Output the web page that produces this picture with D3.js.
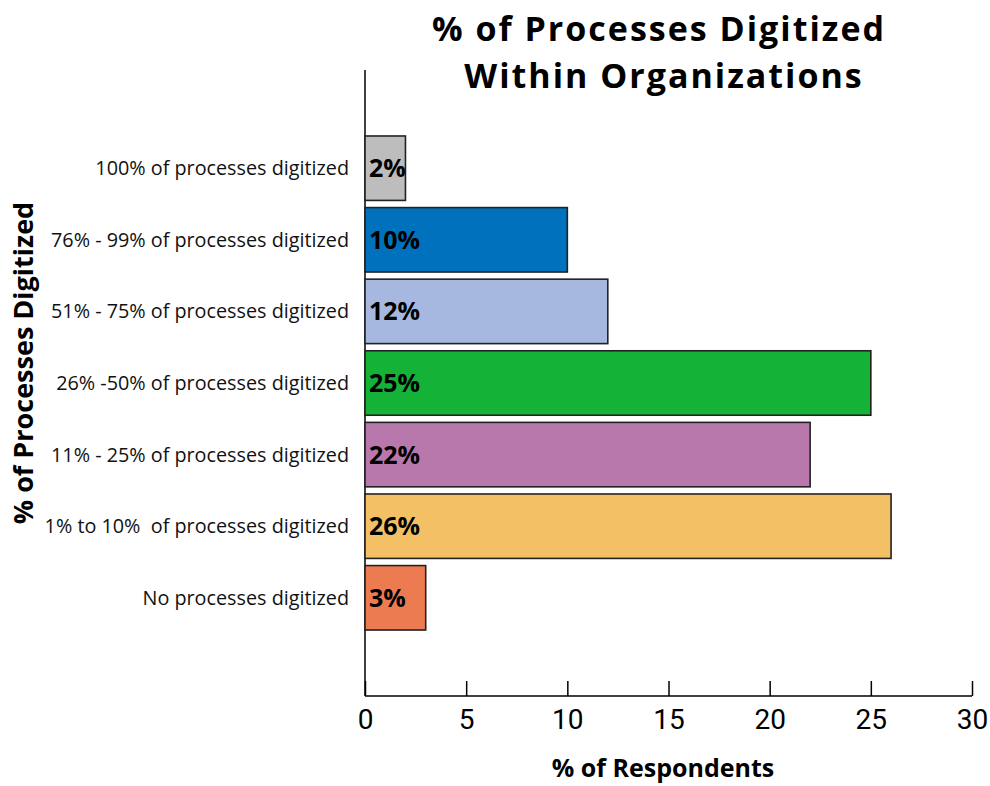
<!DOCTYPE html>
<html><head><meta charset="utf-8">
<script src="https://cdn.jsdelivr.net/npm/d3@7"></script>
<style>body{margin:0;background:#fff}</style>
</head><body>
<svg id="chart" width="990" height="786"></svg>
<script>
const categories = ["100% of processes digitized","76% - 99% of processes digitized","51% - 75% of processes digitized","26% -50% of processes digitized","11% - 25% of processes digitized","1% to 10%  of processes digitized","No processes digitized"];
const values = [2,10,12,25,22,26,3];
const valueLabels = ["2%","10%","12%","25%","22%","26%","3%"];
const colors = ["#bdbdbd","#0071bc","#a6b8df","#14b236","#b978ab","#f4c066","#ed7b52"];
const xTicks = [0,5,10,15,20,25,30];

const svg = d3.select("#chart");
const x = d3.scaleLinear().domain([0,30]).range([365,972]);
const y = d3.scaleBand().domain(categories).range([132.4,633.6]).paddingInner(0.1).paddingOuter(0.05);
const axisY = 696;

svg.append("line").attr("x1",365).attr("x2",365).attr("y1",70).attr("y2",axisY).attr("stroke","#000").attr("stroke-width",1.5);

svg.selectAll("rect.bar").data(values).join("rect").attr("class","bar")
  .attr("x",x(0)).attr("y",(d,i)=>y(categories[i]))
  .attr("width",d=>x(d)-x(0)).attr("height",y.bandwidth())
  .attr("fill",(d,i)=>colors[i]).attr("stroke","#222").attr("stroke-width",1.6);

svg.selectAll("text.val").data(values).join("text").attr("class","val")
  .attr("x",x(0)+4).attr("y",(d,i)=>y(categories[i])+y.bandwidth()/2)
  .attr("dy","0.36em").attr("font-family","'Open Sans', sans-serif").attr("font-weight","bold")
  .attr("font-size",25).text((d,i)=>valueLabels[i]);

svg.selectAll("text.cat").data(categories).join("text").attr("class","cat")
  .attr("x",349).attr("y",d=>y(d)+y.bandwidth()/2).attr("dy","0.35em")
  .attr("text-anchor","end").attr("font-family","'Open Sans', sans-serif").attr("font-size",19.8)
  .attr("fill","#111").style("white-space","pre").text(d=>d);

const xAxis = d3.axisBottom(x).tickValues(xTicks).tickSize(-15).tickPadding(30).tickFormat(d3.format("d"));
const gx = svg.append("g").attr("transform",`translate(0,${axisY})`).call(xAxis);
gx.select(".domain").attr("stroke","#000").attr("stroke-width",1.5).attr("d",`M${x(0)},0H${x(30)}`);
gx.selectAll(".tick line").attr("stroke","#000").attr("stroke-width",1.5);
gx.selectAll(".tick text").attr("font-family","'Liberation Sans Narrow', 'Roboto', sans-serif").attr("font-size",28).attr("fill","#000").attr("dy","0.1em");

const title = svg.append("text").attr("text-anchor","middle")
  .attr("font-family","'Open Sans', sans-serif").attr("font-weight","bold").attr("font-size",34)
  .attr("letter-spacing",2).attr("fill","#000");
title.append("tspan").attr("x",659).attr("y",41).text("% of Processes Digitized");
title.append("tspan").attr("x",664).attr("y",88).text("Within Organizations");

svg.append("text").attr("x",663).attr("y",777).attr("text-anchor","middle")
  .attr("font-family","'Open Sans', sans-serif").attr("font-weight","bold").attr("font-size",25).text("% of Respondents");

svg.append("text").attr("transform","translate(33,363) rotate(-90)").attr("text-anchor","middle")
  .attr("font-family","'Open Sans', sans-serif").attr("font-weight","bold").attr("font-size",27).text("% of Processes Digitized");
</script>
</body></html>
